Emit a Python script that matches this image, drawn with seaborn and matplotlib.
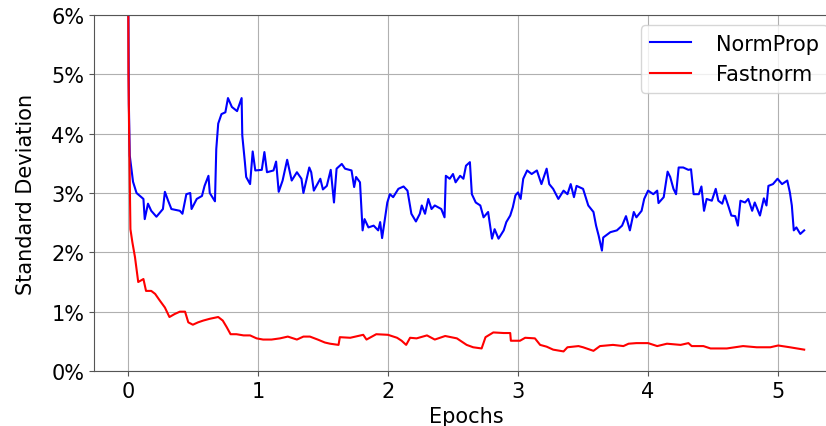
import pandas as pd
import matplotlib
matplotlib.use('Agg')
import matplotlib.pyplot as plt
import seaborn as sns
from matplotlib.ticker import PercentFormatter

# NormProp (epoch, std %)
normprop_epoch = [0.0, 0.008, 0.015, 0.04, 0.067, 0.12, 0.13, 0.155, 0.18, 0.22, 0.27, 0.285, 0.31,
                  0.335, 0.40, 0.42, 0.45, 0.48, 0.49, 0.53, 0.57, 0.59, 0.62, 0.63, 0.67, 0.68, 0.695,
                  0.72, 0.75, 0.77, 0.80, 0.84, 0.875, 0.88, 0.90, 0.91, 0.94, 0.96, 0.98, 1.03, 1.05,
                  1.07, 1.12, 1.14, 1.16, 1.19, 1.225, 1.26, 1.30, 1.335, 1.35, 1.395, 1.41, 1.43, 1.48,
                  1.50, 1.53, 1.56, 1.585, 1.605, 1.645, 1.67, 1.72, 1.74, 1.755, 1.785, 1.805, 1.82,
                  1.85, 1.89, 1.925, 1.94, 1.955, 1.98, 1.995, 2.015, 2.04, 2.08, 2.12, 2.15, 2.18,
                  2.215, 2.245, 2.26, 2.285, 2.31, 2.335, 2.36, 2.41, 2.435, 2.445, 2.475, 2.50, 2.52,
                  2.555, 2.58, 2.60, 2.63, 2.645, 2.675, 2.71, 2.735, 2.77, 2.80, 2.82, 2.85, 2.89,
                  2.91, 2.94, 2.96, 2.98, 3.0, 3.02, 3.04, 3.07, 3.105, 3.145, 3.18, 3.22, 3.24, 3.27,
                  3.31, 3.35, 3.38, 3.405, 3.43, 3.45, 3.50, 3.54, 3.58, 3.60, 3.62, 3.645, 3.655,
                  3.71, 3.76, 3.80, 3.83, 3.86, 3.89, 3.91, 3.95, 3.97, 4.00, 4.04, 4.07, 4.08, 4.12,
                  4.15, 4.17, 4.195, 4.215, 4.235, 4.27, 4.31, 4.33, 4.35, 4.39, 4.41, 4.43, 4.45,
                  4.49, 4.52, 4.54, 4.57, 4.59, 4.62, 4.64, 4.67, 4.69, 4.71, 4.745, 4.77, 4.80, 4.82,
                  4.86, 4.89, 4.91, 4.925, 4.96, 4.995, 5.03, 5.07, 5.09, 5.105, 5.12, 5.14, 5.17, 5.20]
normprop_std = [8.0, 4.5, 3.63, 3.19, 3.0, 2.9, 2.56, 2.82, 2.7, 2.6, 2.73, 3.02, 2.87,
                2.73, 2.7, 2.65, 2.98, 3.0, 2.73, 2.9, 2.95, 3.12, 3.29, 3.0, 2.86, 3.74, 4.17,
                4.33, 4.36, 4.6, 4.45, 4.38, 4.6, 3.97, 3.52, 3.27, 3.15, 3.7, 3.38, 3.39, 3.69,
                3.35, 3.38, 3.53, 3.02, 3.21, 3.56, 3.21, 3.35, 3.24, 3.0, 3.43, 3.35, 3.04, 3.24,
                3.06, 3.12, 3.39, 2.84, 3.41, 3.49, 3.41, 3.38, 3.10, 3.27, 3.18, 2.37, 2.56,
                2.42, 2.45, 2.37, 2.51, 2.24, 2.62, 2.84, 2.98, 2.93, 3.07, 3.11, 3.04, 2.65,
                2.52, 2.65, 2.79, 2.65, 2.90, 2.73, 2.79, 2.73, 2.59, 3.29, 3.24, 3.32, 3.18,
                3.29, 3.24, 3.46, 3.52, 2.98, 2.84, 2.79, 2.59, 2.68, 2.23, 2.39, 2.23, 2.37,
                2.51, 2.62, 2.76, 2.96, 3.01, 2.90, 3.24, 3.38, 3.32, 3.38, 3.15, 3.41, 3.15, 3.07,
                2.90, 3.04, 2.98, 3.15, 2.93, 3.12, 3.07, 2.79, 2.68, 2.45, 2.28, 2.03, 2.25,
                2.34, 2.37, 2.45, 2.61, 2.37, 2.68, 2.59, 2.70, 2.90, 3.04, 2.98, 3.04, 2.83, 2.93,
                3.36, 3.27, 3.07, 2.98, 3.43, 3.43, 3.39, 3.40, 2.98, 2.98, 3.11, 2.70, 2.90,
                2.87, 3.07, 2.87, 2.82, 2.96, 2.76, 2.62, 2.61, 2.45, 2.87, 2.84, 2.90, 2.70, 2.84,
                2.62, 2.91, 2.79, 3.12, 3.15, 3.24, 3.15, 3.21, 3.01, 2.79, 2.37, 2.42, 2.31, 2.37]

# Fastnorm (epoch, std %)
fastnorm_epoch = [0.0, 0.005, 0.01, 0.02, 0.035, 0.055, 0.08, 0.12, 0.14, 0.18, 0.21, 0.245, 0.285,
                  0.32, 0.36, 0.40, 0.44, 0.465, 0.50, 0.54, 0.58, 0.63, 0.695, 0.73, 0.76, 0.79,
                  0.835, 0.89, 0.94, 0.99, 1.04, 1.105, 1.17, 1.23, 1.30, 1.35, 1.40, 1.46, 1.515,
                  1.555, 1.62, 1.63, 1.71, 1.81, 1.835, 1.91, 2.0, 2.07, 2.105, 2.14, 2.17, 2.22,
                  2.30, 2.36, 2.44, 2.53, 2.605, 2.655, 2.72, 2.75, 2.81, 2.89, 2.94, 2.945, 3.015,
                  3.055, 3.13, 3.17, 3.22, 3.27, 3.35, 3.38, 3.465, 3.50, 3.58, 3.63, 3.73, 3.81,
                  3.85, 3.91, 4.0, 4.07, 4.145, 4.25, 4.31, 4.335, 4.425, 4.48, 4.605, 4.73, 4.835,
                  4.94, 5.0, 5.09, 5.20]
fastnorm_std = [9.0, 5.0, 4.03, 2.39, 2.17, 1.92, 1.50, 1.55, 1.35, 1.35, 1.30, 1.19, 1.07,
                0.91, 0.96, 1.0, 1.0, 0.82, 0.78, 0.82, 0.85, 0.88, 0.91, 0.85, 0.74, 0.62,
                0.62, 0.60, 0.60, 0.55, 0.53, 0.53, 0.55, 0.58, 0.53, 0.58, 0.58, 0.53, 0.48,
                0.46, 0.44, 0.57, 0.56, 0.61, 0.53, 0.62, 0.61, 0.56, 0.51, 0.44, 0.56, 0.55,
                0.60, 0.53, 0.59, 0.55, 0.44, 0.40, 0.38, 0.57, 0.65, 0.64, 0.64, 0.51, 0.51,
                0.56, 0.55, 0.44, 0.41, 0.36, 0.33, 0.40, 0.42, 0.40, 0.34, 0.42, 0.44, 0.42,
                0.46, 0.47, 0.47, 0.42, 0.46, 0.44, 0.47, 0.42, 0.42, 0.38, 0.38, 0.42, 0.40,
                0.40, 0.43, 0.40, 0.36]

df = pd.concat([
    pd.DataFrame({'epoch': normprop_epoch, 'std': normprop_std, 'method': 'NormProp'}),
    pd.DataFrame({'epoch': fastnorm_epoch, 'std': fastnorm_std, 'method': 'Fastnorm'}),
])

fig = plt.figure(figsize=(8.26, 4.27), dpi=100)
# the original is cropped on the right: the axes run past the image edge
ax = fig.add_axes([94 / 826, 55 / 427, 744 / 826, 356 / 427])
sns.lineplot(data=df, x='epoch', y='std', hue='method', estimator=None, sort=False,
             palette={'NormProp': 'blue', 'Fastnorm': 'red'}, linewidth=1.5, ax=ax)

ax.set_xlim(-0.26, 5.46)
ax.set_ylim(0, 6)
ax.yaxis.set_major_formatter(PercentFormatter(decimals=0))
ax.grid(True, color='#b0b0b0', linewidth=0.8)
ax.set_axisbelow(True)
for s in ax.spines.values():
    s.set_color('#555555')
ax.tick_params(labelsize=15, color='#555555')
ax.set_xlabel('Epochs', fontsize=15)
ax.set_ylabel('Standard Deviation', fontsize=15, labelpad=11)
ax.legend(loc='upper right', fontsize=15, title=None, handletextpad=1.2)

fig.savefig('out.png', dpi=100)
